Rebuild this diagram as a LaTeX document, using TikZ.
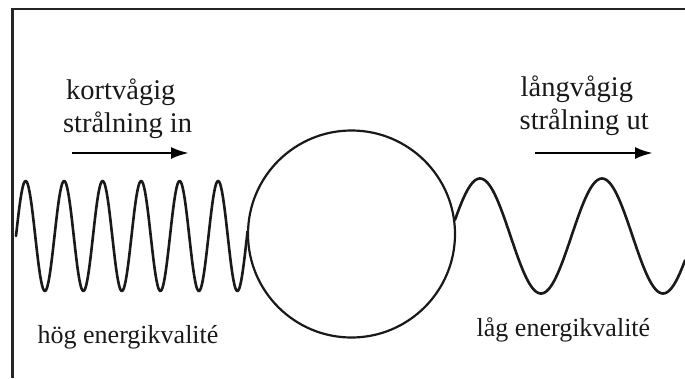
\documentclass[tikz,border=0pt]{standalone}
\usepackage{fontspec}
\setmainfont{Liberation Serif}
\usetikzlibrary{arrows.meta}
\tikzset{
  frameline/.style={line width=2.6pt, black!85},
  waveline/.style={line width=2.6pt, black!90, line join=round, line cap=round},
  ballline/.style={line width=2.2pt, black!90},
  flowarrow/.style={line width=2.7pt, -{Latex[length=18pt,width=12pt]}},
  toplabel/.style={anchor=base west, inner sep=0pt, font=\fontsize{28.5}{33}\selectfont, text=black!90},
  botlabel/.style={anchor=base west, inner sep=0pt, font=\fontsize{26}{30}\selectfont, text=black!90}
}
\begin{document}
\begin{tikzpicture}[x=1pt,y=-1pt]
  \useasboundingbox (0,0) rectangle (685,378);
  % frame
  \draw[frameline] (12.7,378) -- (12.7,9) -- (685,9);
  % earth / ball
  \node[draw, circle, ballline, minimum size=207pt, inner sep=0pt] (ball) at (351.5,234) {};
  % short wave in
  \draw[waveline] plot[domain=16:247.5, samples=400, smooth] (\x, {236 - 55*sin(9.3506*(\x-16))});
  % long wave out
  \draw[waveline] plot[domain=455:685, samples=200, smooth] (\x, {236 - 57.5*sin(2.9508*(\x-449.5))});
  % labels
  \node[toplabel] (kv1) at (66,99.3) {kortvågig};
  \node[toplabel] (kv2) at (62.8,132.7) {strålning in};
  \node[toplabel] (lv1) at (520.5,96.5) {långvågig};
  \node[toplabel] (lv2) at (519.5,129.8) {strålning ut};
  \node[botlabel] (hog) at (37.5,343.3) {hög energikvalité};
  \node[botlabel] (lag) at (476.5,336) {låg energikvalité};
  % arrows
  \coordinate (a1s) at (72,153);
  \coordinate (a1e) at (189,153);
  \coordinate (a2s) at (535,153);
  \coordinate (a2e) at (653,153);
  \draw[flowarrow] (a1s) -- (a1e);
  \draw[flowarrow] (a2s) -- (a2e);
\end{tikzpicture}
\end{document}
